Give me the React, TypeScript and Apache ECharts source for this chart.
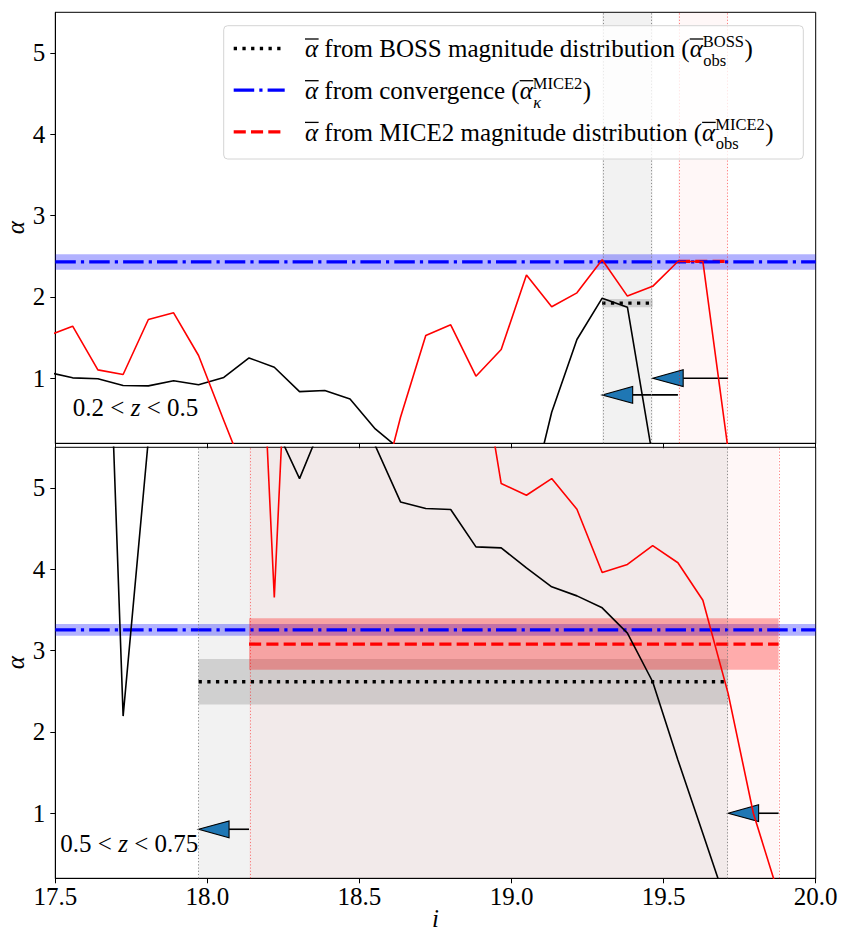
import React, { useEffect, useRef } from 'react';
import * as echarts from 'echarts';

// magnitude bin centres (i band)
const I_MAG = [17.474, 17.557, 17.640, 17.723, 17.806, 17.889, 17.971, 18.054, 18.137, 18.220,
  18.303, 18.386, 18.469, 18.552, 18.635, 18.718, 18.800, 18.883, 18.966, 19.049,
  19.132, 19.215, 19.298, 19.381, 19.464, 19.547, 19.629, 19.712, 19.795, 19.878];

// 0.2 < z < 0.5
const TOP_BOSS_ALPHA = [1.076, 1.005, 0.993, 0.91, 0.906, 0.97, 0.92, 1.01, 1.25, 1.135,
  0.836, 0.85, 0.746, 0.377, 0.12, 0.05, -0.2, -0.4, -0.6, -0.7,
  0.582, 1.476, 1.985, 1.874, 0.03, -0.5, -0.8, -1.0, -1.1, -1.2];
const TOP_MICE_ALPHA = [1.52, 1.64, 1.103, 1.046, 1.722, 1.805, 1.28, 0.48, -0.3, -0.6,
  -0.8, -0.9, -0.8, -0.68, 0.52, 1.525, 1.657, 1.025, 1.353, 2.27,
  1.88, 2.05, 2.457, 2.01, 2.13, 2.436, 2.436, 0.12, -0.5, -0.8];

// 0.5 < z < 0.75
const BOT_BOSS_ALPHA = [9.5, 10.2, 11.0, 2.195, 5.6, 7.0, 7.5, 7.0, 6.5, 5.78,
  5.115, 5.87, 6.2, 5.52, 4.828, 4.747, 4.735, 4.275, 4.263, 4.017,
  3.784, 3.673, 3.526, 3.215, 2.617, 1.655, 0.75, -0.17, -0.6, -0.9];
const BOT_MICE_ALPHA = [8.5, 8.8, 9.0, 9.2, 9.4, 9.6, 9.8, 10.0, 10.3, 3.654,
  10.3, 9.5, 9.0, 8.6, 8.2, 7.8, 7.4, 6.93, 5.054, 4.91,
  5.115, 4.738, 3.96, 4.06, 4.29, 4.08, 3.62, 2.474, 1.0, 0.0];

// mean alpha [value, error] and fitted magnitude ranges
const TOP_KAPPA = [2.43, 0.095];
const TOP_BOSS_MEAN = [1.923, 0.05];
const TOP_BOSS_SPAN = [19.298, 19.464];
const TOP_MICE_MEAN = [2.436, 0.0];
const TOP_MICE_SPAN = [19.547, 19.712];
const TOP_ARROWS = [[19.464, 19.712, 1.0], [19.298, 19.547, 0.795]]; // tip, tail, y

const BOT_KAPPA = [3.255, 0.072];
const BOT_BOSS_MEAN = [2.617, 0.28];
const BOT_BOSS_SPAN = [17.971, 19.712];
const BOT_MICE_MEAN = [3.08, 0.317];
const BOT_MICE_SPAN = [18.137, 19.878];
const BOT_ARROWS = [[17.971, 18.137, 0.803], [19.712, 19.878, 1.0]];

const X_RANGE = [17.5, 20.0];
const Y_RANGE = [0.2, 5.5];
const Y_TICKS = [1, 2, 3, 4, 5];

const FAMILY = "'Liberation Serif', serif";
const FS = 25;
const SUBFS = 16.5;

let mctx: CanvasRenderingContext2D | null = null;
function tw(text: string, size: number, italic?: boolean) {
  if (!mctx) mctx = document.createElement('canvas').getContext('2d');
  mctx!.font = `${italic ? 'italic ' : ''}${size}px ${FAMILY}`;
  return mctx!.measureText(text).width;
}
function txt(x: number, base: number, text: string, size: number, italic?: boolean, align = 'left') {
  return {
    type: 'text', x, y: base - 0.3375 * size, z: 100, silent: true,
    style: {
      text, fontFamily: FAMILY, fontSize: size, fontStyle: italic ? 'italic' : 'normal', fill: '#000',
      align, textAlign: align, verticalAlign: 'middle', textVerticalAlign: 'middle',
    },
  };
}
type Seg = { t?: string; it?: boolean; bar?: boolean; sup?: string; sub?: string; subIt?: boolean };
function segWidth(segs: Seg[]) {
  let w = 0;
  for (const s of segs) {
    if (s.sup !== undefined) w += Math.max(tw(s.sup, SUBFS), tw(s.sub || '', SUBFS, s.subIt));
    else w += tw(s.t || '', FS, s.it);
  }
  return w;
}
function layoutRow(segs: Seg[], x0: number, base: number) {
  const els: any[] = [];
  let x = x0;
  for (const s of segs) {
    if (s.sup !== undefined) {
      const w1 = tw(s.sup, SUBFS), w2 = tw(s.sub || '', SUBFS, s.subIt);
      els.push(txt(x, base - 10.2, s.sup, SUBFS));
      els.push(txt(x + 0.5, base + 8.6, s.sub || '', SUBFS, s.subIt));
      x += Math.max(w1, w2) + 0.5;
    } else {
      const w = tw(s.t || '', FS, s.it);
      els.push(txt(x, base, s.t || '', FS, s.it));
      if (s.bar) {
        els.push({
          type: 'line', z: 100, silent: true,
          shape: { x1: x, y1: base - 18.3, x2: x + w + 0.5, y2: base - 18.3 },
          style: { stroke: '#000', lineWidth: 1.3 },
        });
      }
      x += w;
    }
  }
  return els;
}

const DOT = [3.3, 5.4];
const DASHDOT = [20.5, 5.1, 3.2, 5.1];
const DASH = [12.1, 5.2];

function panelSeries(idx: number, boss: number[], mice: number[], kappa: number[],
  bossMean: number[], bossSpan: number[], miceMean: number[], miceSpan: number[], arrows: number[][]) {
  const ax = { xAxisIndex: idx, yAxisIndex: idx };
  const grayDot = { color: '#808080', width: 0.9, type: [1.2, 2] };
  const redDot = { color: 'rgba(255,0,0,0.55)', width: 0.9, type: [1.2, 2] };
  const bands: any[] = [
    [{ yAxis: kappa[0] - kappa[1], itemStyle: { color: 'rgba(0,0,255,0.3)' } }, { yAxis: kappa[0] + kappa[1] }],
    [{ xAxis: bossSpan[0], yAxis: bossMean[0] - bossMean[1], itemStyle: { color: 'rgba(128,128,128,0.3)' } },
      { xAxis: bossSpan[1], yAxis: bossMean[0] + bossMean[1] }],
  ];
  if (miceMean[1] > 0) {
    bands.push([{ xAxis: miceSpan[0], yAxis: miceMean[0] - miceMean[1], itemStyle: { color: 'rgba(255,0,0,0.3)' } },
      { xAxis: miceSpan[1], yAxis: miceMean[0] + miceMean[1] }]);
  }
  return [
    {
      type: 'line', ...ax, data: [], silent: true, z: 1,
      markArea: {
        silent: true, label: { show: false },
        data: [
          [{ xAxis: bossSpan[0], itemStyle: { color: 'rgba(128,128,128,0.1)' } }, { xAxis: bossSpan[1] }],
          [{ xAxis: miceSpan[0], itemStyle: { color: 'rgba(255,0,0,0.03)' } }, { xAxis: miceSpan[1] }],
        ],
      },
      markLine: {
        silent: true, symbol: ['none', 'none'], label: { show: false },
        data: [
          { xAxis: bossSpan[0], lineStyle: grayDot },
          { xAxis: bossSpan[1], lineStyle: grayDot },
          { xAxis: miceSpan[0], lineStyle: redDot },
          { xAxis: miceSpan[1], lineStyle: redDot },
        ],
      },
    },
    {
      type: 'line', ...ax, data: [], silent: true, z: 2,
      markArea: { silent: true, label: { show: false }, data: bands },
    },
    {
      type: 'line', ...ax, z: 3, silent: true, symbol: 'none',
      data: [[bossSpan[0], bossMean[0]], [bossSpan[1], bossMean[0]]],
      lineStyle: { color: '#000', width: 3.3, type: DOT },
    },
    {
      type: 'line', ...ax, z: 3, silent: true, symbol: 'none',
      data: [[miceSpan[0], miceMean[0]], [miceSpan[1], miceMean[0]]],
      lineStyle: { color: '#ff0000', width: 3.3, type: DASH },
    },
    {
      type: 'line', ...ax, z: 3, silent: true, symbol: 'none',
      data: [[X_RANGE[0], kappa[0]], [X_RANGE[1], kappa[0]]],
      lineStyle: { color: '#0000ff', width: 3.2, type: DASHDOT },
    },
    {
      type: 'custom', ...ax, z: 4, silent: true,
      data: arrows,
      encode: { x: [0, 1], y: 2 },
      renderItem: (params: any, api: any) => {
        const tip = api.coord([api.value(0), api.value(2)]);
        const tail = api.coord([api.value(1), api.value(2)]);
        const hl = 30.5, hw = 8.4;
        return {
          type: 'group',
          children: [
            { type: 'line', shape: { x1: tail[0], y1: tail[1], x2: tip[0] + hl, y2: tip[1] },
              style: { stroke: '#000', lineWidth: 1.6 } },
            { type: 'polygon', shape: { points: [[tip[0], tip[1]], [tip[0] + hl, tip[1] - hw], [tip[0] + hl, tip[1] + hw]] },
              style: { fill: '#1f77b4', stroke: '#000', lineWidth: 1.1 } },
          ],
        };
      },
    },
    {
      type: 'line', ...ax, z: 5, silent: true, symbol: 'none',
      data: I_MAG.map((x, k) => [x, boss[k]]),
      lineStyle: { color: '#000', width: 1.6 },
    },
    {
      type: 'line', ...ax, z: 5, silent: true, symbol: 'none',
      data: I_MAG.map((x, k) => [x, mice[k]]),
      lineStyle: { color: '#ff0000', width: 1.6 },
    },
  ];
}

export default function App() {
  const ref = useRef<HTMLDivElement>(null);
  useEffect(() => {
    if (!ref.current) return;
    const chart = echarts.init(ref.current, undefined, { renderer: 'svg' });
    const L = 55.3, W = 760.4, H = 431;
    const tops = [12.3, 447.3];
    const labelFont = { fontFamily: FAMILY, fontSize: FS, color: '#000' };

    const grids = tops.map((t) => ({
      left: L, top: t, width: W, height: H, show: true, borderColor: '#000', borderWidth: 1,
      backgroundColor: 'transparent', containLabel: false,
    }));
    const xAxes = [0, 1].map((i) => ({
      type: 'value', gridIndex: i, min: X_RANGE[0], max: X_RANGE[1], interval: 0.5,
      axisLine: { show: true, onZero: false, lineStyle: { color: '#000', width: 1 } },
      axisTick: { show: true, length: 5, lineStyle: { color: '#000', width: 1 } },
      axisLabel: {
        show: i === 1, margin: 6, ...labelFont, showMinLabel: true, showMaxLabel: true,
        formatter: (v: number) => v.toFixed(1),
      },
      splitLine: { show: false },
    }));
    const yAxes = [0, 1].map((i) => ({
      type: 'value', gridIndex: i, min: Y_RANGE[0], max: Y_RANGE[1],
      axisLine: { show: true, onZero: false, lineStyle: { color: '#000', width: 1 } },
      axisTick: { show: true, length: 5, customValues: Y_TICKS, lineStyle: { color: '#000', width: 1 } },
      axisLabel: { show: true, margin: 10, customValues: Y_TICKS, ...labelFont, formatter: (v: number) => String(Math.round(v)) },
      splitLine: { show: false },
    }));

    const series = [
      ...panelSeries(0, TOP_BOSS_ALPHA, TOP_MICE_ALPHA, TOP_KAPPA, TOP_BOSS_MEAN, TOP_BOSS_SPAN, TOP_MICE_MEAN, TOP_MICE_SPAN, TOP_ARROWS),
      ...panelSeries(1, BOT_BOSS_ALPHA, BOT_MICE_ALPHA, BOT_KAPPA, BOT_BOSS_MEAN, BOT_BOSS_SPAN, BOT_MICE_MEAN, BOT_MICE_SPAN, BOT_ARROWS),
    ];

    // legend
    const rows: { segs: Seg[]; stroke: string; dash: number[]; width: number }[] = [
      { segs: [{ t: 'α', it: true, bar: true }, { t: ' from BOSS magnitude distribution (' }, { t: 'α', it: true, bar: true }, { sup: 'BOSS', sub: 'obs' }, { t: ')' }],
        stroke: '#000', dash: DOT, width: 3.3 },
      { segs: [{ t: 'α', it: true, bar: true }, { t: ' from convergence (' }, { t: 'α', it: true, bar: true }, { sup: 'MICE2', sub: 'κ', subIt: true }, { t: ')' }],
        stroke: '#0000ff', dash: DASHDOT, width: 3.2 },
      { segs: [{ t: 'α', it: true, bar: true }, { t: ' from MICE2 magnitude distribution (' }, { t: 'α', it: true, bar: true }, { sup: 'MICE2', sub: 'obs' }, { t: ')' }],
        stroke: '#ff0000', dash: DASH, width: 3.3 },
    ];
    const bases = [57.3, 99.0, 140.7];
    const els: any[] = [
      { type: 'rect', z: 99, silent: true, shape: { x: 223.7, y: 25.7, width: 579.6, height: 133.3, r: 4 },
        style: { fill: 'rgba(255,255,255,0.8)', stroke: '#d4d4d4', lineWidth: 1 } },
    ];
    rows.forEach((r, k) => {
      els.push({ type: 'line', z: 100, silent: true,
        shape: { x1: 233.7, y1: bases[k] - 8.8, x2: 284.7, y2: bases[k] - 8.8 },
        style: { stroke: r.stroke, lineWidth: r.width, lineDash: r.dash } });
      els.push(...layoutRow(r.segs, 305, bases[k]));
    });
    // redshift annotations (right aligned)
    const ann1: Seg[] = [{ t: '0.2 < ' }, { t: 'z', it: true }, { t: ' < 0.5' }];
    const ann2: Seg[] = [{ t: '0.5 < ' }, { t: 'z', it: true }, { t: ' < 0.75' }];
    els.push(...layoutRow(ann1, 198.3 - segWidth(ann1), 415.7));
    els.push(...layoutRow(ann2, 198.3 - segWidth(ann2), 852));
    // axis titles
    [227.7, 662.7].forEach((cy) => {
      els.push({ type: 'text', x: 15.5, y: cy, rotation: Math.PI / 2, z: 100, silent: true,
        style: { text: 'α', fontFamily: FAMILY, fontSize: FS, fontStyle: 'italic', fill: '#000', align: 'center', textAlign: 'center', verticalAlign: 'middle', textVerticalAlign: 'middle' } });
    });
    els.push(txt(435.5, 926.5, 'i', FS, true, 'center'));

    chart.setOption({
      animation: false,
      grid: grids,
      xAxis: xAxes,
      yAxis: yAxes,
      series,
      graphic: { elements: els },
    });
    return () => chart.dispose();
  }, []);
  return <div ref={ref} style={{ position: 'fixed', left: 0, top: 0, width: 841, height: 932, background: '#fff' }} />;
}
